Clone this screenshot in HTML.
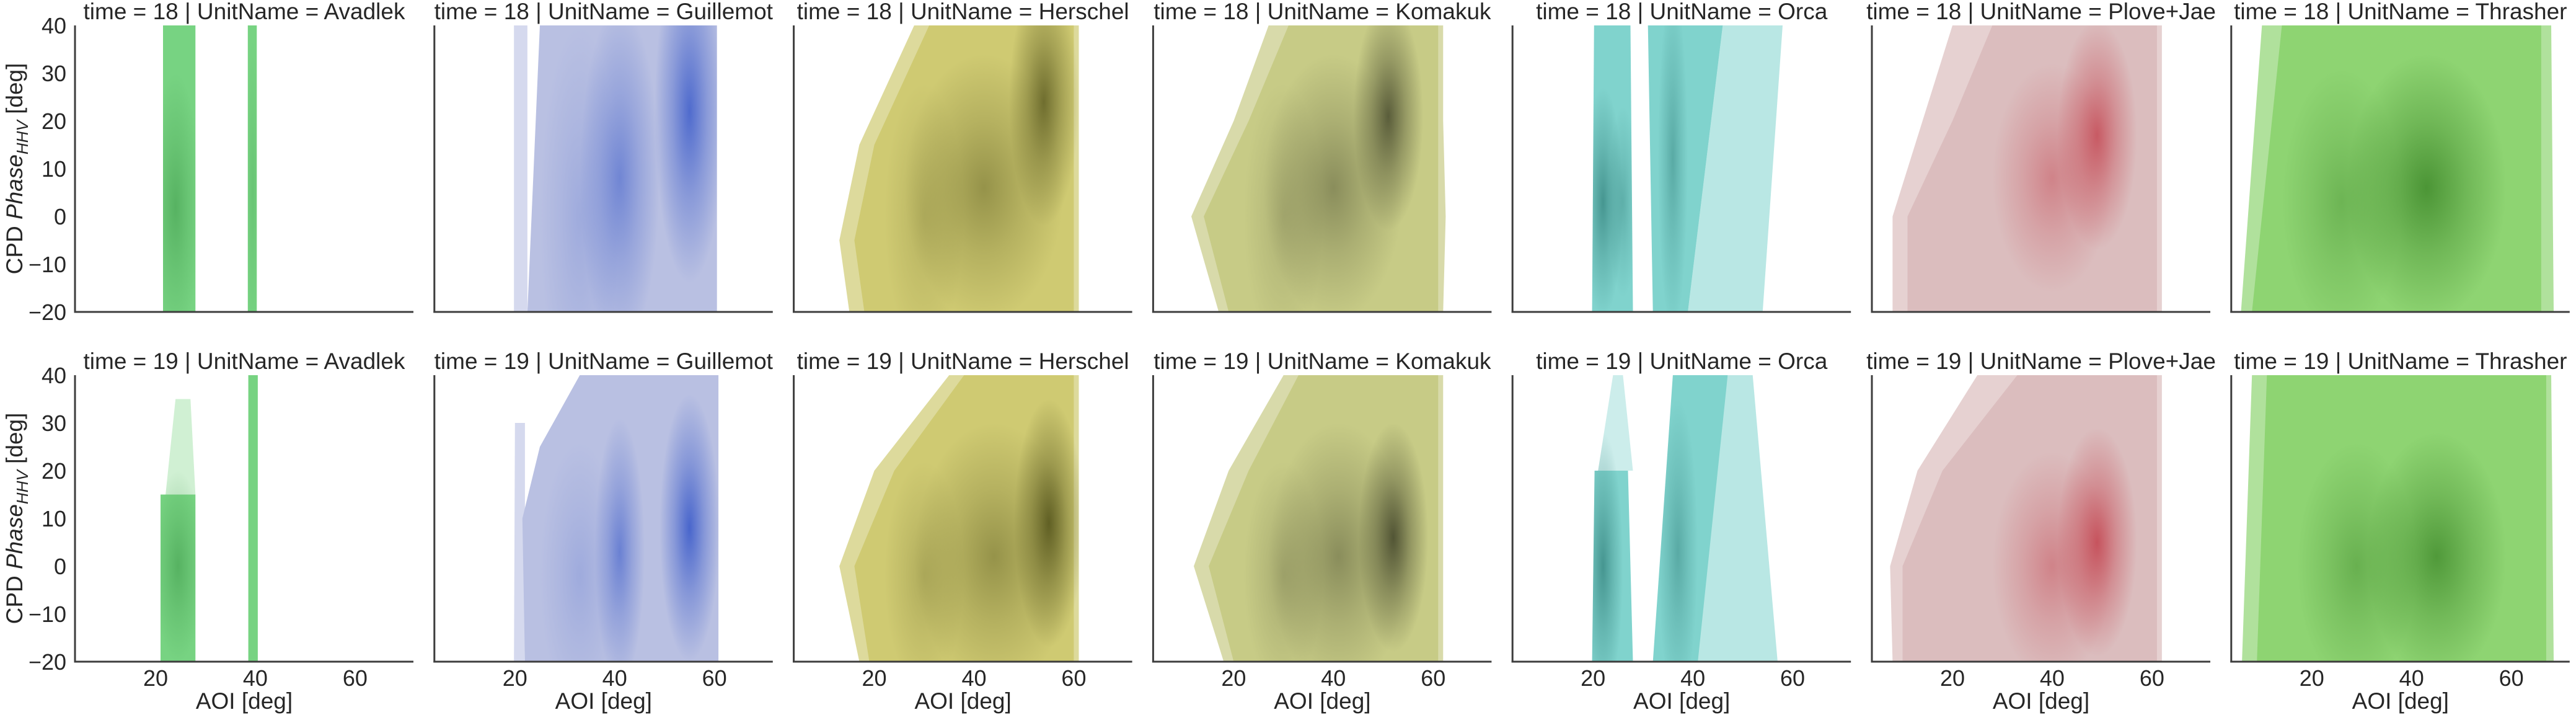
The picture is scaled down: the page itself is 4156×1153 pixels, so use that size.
<!DOCTYPE html>
<html><head><meta charset="utf-8">
<style>
html,body{margin:0;padding:0;background:#fff;}
svg{display:block;font-family:"Liberation Sans","DejaVu Sans",sans-serif;}
</style></head>
<body>
<svg id="chart" width="4156" height="1153" viewBox="0 0 4156 1153" xmlns="http://www.w3.org/2000/svg"></svg>
<script>
const units = ["Avadlek","Guillemot","Herschel","Komakuk","Orca","Plove+Jae","Thrasher"];
const times = [18, 19];
const xTicks = [20, 40, 60];
const yTicks = [-20, -10, 0, 10, 20, 30, 40];
const lightColors = ["#77d382","#b9c0e2","#cfca72","#c7cb86","#80d3cd","#dbbdbe","#8ed472"];
const darkColors  = ["#2f8a3a","#3556c8","#4f4f18","#3f4228","#1f6d68","#c23c48","#2f7a1c"];
// envelopes: per row, per unit: list of regions [opacity, [[phase,xmin,xmax],...]]
const envelopes18 = [
  [[1,[[-20,21.5,28],[40,21.5,28]]],[1,[[-20,38.5,40.3],[40,38.5,40.3]]]],
  [[0.6,[[-20,19.8,22.5],[40,19.8,22.5]]],[1,[[-20,22.5,60.5],[40,25,60.5]]]],
  [[0.7,[[-20,15,61],[-5,13,61],[15,17,61],[40,28,61]]],[1,[[-20,18,60],[-5,16,60],[15,20,60],[40,31,60]]]],
  [[0.7,[[-20,17,62],[0,11.5,62.5],[20,20,62],[40,27,62]]],[1,[[-20,19,61],[0,14,61],[20,23,61],[40,31,61]]]],
  [[1,[[-20,19.8,28],[40,20.2,27.5]]],[1,[[-20,32,39],[40,31,46]]],[0.55,[[-20,39,54],[40,46,58]]]],
  [[0.7,[[-20,8,62],[0,8,62],[20,14,62],[40,20,62]]],[1,[[-20,11,61],[0,11,61],[20,20,61],[40,28,61]]]],
  [[0.7,[[-20,5.8,68.5],[40,10,68]]],[1,[[-20,8,66],[40,14,66]]]]
];
const envelopes19 = [
  [[1,[[-20,21,28],[15,21,28]]],[0.35,[[15,22,28],[35,24,27]]],[1,[[-20,38.6,40.5],[40,38.6,40.5]]]],
  [[0.6,[[-20,19.8,22],[30,20,22]]],[1,[[-20,22,60.8],[10,21.5,60.8],[25,25,60.8],[40,33,60.8]]]],
  [[0.7,[[-20,17,61],[0,13,61],[20,20,61],[40,35,61]]],[1,[[-20,19,60],[0,16,60],[20,24,60],[40,38,60]]]],
  [[0.7,[[-20,18,62],[0,12,62],[20,19,62],[40,30,62]]],[1,[[-20,20,61],[0,15,61],[20,23,61],[40,33,61]]]],
  [[1,[[-20,19.8,28],[20,20.3,27]]],[0.4,[[20,21,28],[40,24,26]]],[1,[[-20,32,41],[40,36,47]]],[0.55,[[-20,40,57],[40,47,52]]]],
  [[0.7,[[-20,8,62],[0,7.5,62],[20,13,62],[40,25,62]]],[1,[[-20,10,61],[0,10,61],[20,18,61],[40,33,61]]]],
  [[0.7,[[-20,6,68.5],[40,8,68]]],[1,[[-20,9,67],[40,11,67]]]]
];
// hotspots: [aoi, phase, sdAoi, sdPhase, strength]
const hot18 = [
  [[24,2,2.5,14,0.45],[39.5,5,0.8,16,0.2]],
  [[41,8,4,18,0.55],[55,22,3.5,18,0.8],[33,0,4,20,0.2]],
  [[54,24,3.5,13,0.75],[42,6,8,14,0.45],[30,0,4,14,0.2]],
  [[51,21,3.5,12,0.8],[40,6,7,14,0.45],[30,0,4,14,0.2]],
  [[22,3,2,12,0.6],[26,3,1.5,10,0.35],[36,12,1.5,18,0.4]],
  [[49,17,4,12,0.75],[40,8,6,12,0.45]],
  [[43,6,8,14,0.7],[26,3,6,14,0.35]]
];
const hot19 = [
  [[24.5,0,2.5,10,0.45]],
  [[41,3,2.5,14,0.6],[55,8,3,14,0.85],[33,-2,4,14,0.2]],
  [[55,9,3.5,13,0.85],[44,2,8,14,0.45],[30,-2,4,12,0.25]],
  [[52,6,3.5,12,0.85],[41,2,7,14,0.45],[30,-2,4,12,0.25]],
  [[22,0,2,14,0.6],[37,3,2,16,0.4]],
  [[49,5,4,12,0.8],[40,0,6,12,0.45]],
  [[45,2,7,13,0.65],[29,0,6,13,0.4]]
];

const svg = document.getElementById('chart');
const NS = "http://www.w3.org/2000/svg";
const panelLeft0 = 121, pitch = 579.8, panelW = 546, panelH = 462;
const rowTop = [41, 605];
const xMin = 3.85, xMax = 71.7, yMin = -20, yMax = 40;
function xs(a, p){ return panelLeft0 + p*pitch + (a - xMin) / (xMax - xMin) * panelW; }
function ys(v, r){ return rowTop[r] + (yMax - v) / (yMax - yMin) * panelH; }
function el(tag, attrs, parent){
  const e = document.createElementNS(NS, tag);
  for (const k in attrs) e.setAttribute(k, attrs[k]);
  (parent || svg).appendChild(e);
  return e;
}
const defs = el('defs', {});

for (let r = 0; r < 2; r++) {
  const envs = r === 0 ? envelopes18 : envelopes19;
  const hots = r === 0 ? hot18 : hot19;
  for (let p = 0; p < units.length; p++) {
    const g = el('g', {});
    
    
    const left = xs(xMin, p), top = rowTop[r];
    const cid = 'clip' + r + '_' + p;
    const cp = el('clipPath', {id: cid}, defs);
    let unionD = '';
    envs[p].forEach(reg => {
      const pts = reg[1];
      const lp = pts.map(q => xs(q[1], p).toFixed(1) + ',' + ys(q[0], r).toFixed(1));
      const rp = pts.slice().reverse().map(q => xs(q[2], p).toFixed(1) + ',' + ys(q[0], r).toFixed(1));
      const d = 'M' + lp.concat(rp).join('L') + 'Z';
      unionD += d;
      const path = el('path', {d: d, fill: lightColors[p], opacity: reg[0]}, g);
      
      
    });
    el('path', {d: unionD}, cp);
    const hg = el('g', {'clip-path': 'url(#' + cid + ')'}, g);
    hots[p].forEach((h, i) => {
      const gid = 'grad' + r + '_' + p + '_' + i;
      const rg = el('radialGradient', {id: gid}, defs);
      el('stop', {offset: '0', 'stop-color': darkColors[p], 'stop-opacity': h[4]}, rg);
      el('stop', {offset: '0.5', 'stop-color': darkColors[p], 'stop-opacity': h[4]*0.45}, rg);
      el('stop', {offset: '1', 'stop-color': darkColors[p], 'stop-opacity': 0}, rg);
      const cx = xs(h[0], p), cy = ys(h[1], r);
      const rx = (xs(h[0] + 2*h[2], p) - cx), ry = (cy - ys(h[1] + 2*h[3], r));
      const e = el('ellipse', {cx: cx, cy: cy, rx: rx, ry: ry, fill: 'url(#' + gid + ')'}, hg);
      
      
    });
    const ls = el('line', {x1: left, y1: top, x2: left, y2: top + panelH + 1.5, stroke: '#3d3d3d', 'stroke-width': 3}, g);
    
    
    const bs = el('line', {x1: left - 1.5, y1: top + panelH, x2: left + panelW, y2: top + panelH, stroke: '#3d3d3d', 'stroke-width': 3}, g);
    
    
    const t = el('text', {x: left + panelW/2, y: top - 10, 'text-anchor': 'middle', 'font-size': 37, fill: '#262626'}, g);
    t.textContent = 'time = ' + times[r] + ' | UnitName = ' + units[p];
    
    
    if (p === 0) {
      yTicks.forEach(v => {
        const tt = el('text', {x: left - 14, y: ys(v, r) + 13, 'text-anchor': 'end', 'font-size': 36, fill: '#262626'}, g);
        tt.textContent = v < 0 ? '\u2212' + Math.abs(v) : String(v);
        
        
      });
      const yl = el('text', {x: 0, y: 0, 'text-anchor': 'middle', 'font-size': 37, fill: '#262626', transform: 'translate(36,' + (top + panelH/2) + ') rotate(-90)'}, g);
      yl.innerHTML = 'CPD <tspan font-style="italic">Phase</tspan><tspan font-style="italic" font-size="26" dy="9">HHV</tspan><tspan dy="-9"> [deg]</tspan>';
      
      
    }
    if (r === 1) {
      xTicks.forEach(v => {
        const tt = el('text', {x: xs(v, p), y: top + panelH + 39, 'text-anchor': 'middle', 'font-size': 36, fill: '#262626'}, g);
        tt.textContent = String(v);
        
        
      });
      const xl = el('text', {x: left + panelW/2, y: top + panelH + 76, 'text-anchor': 'middle', 'font-size': 37, fill: '#262626'}, g);
      xl.textContent = 'AOI [deg]';
      
      
    }
  }
}
</script>
</body></html>
